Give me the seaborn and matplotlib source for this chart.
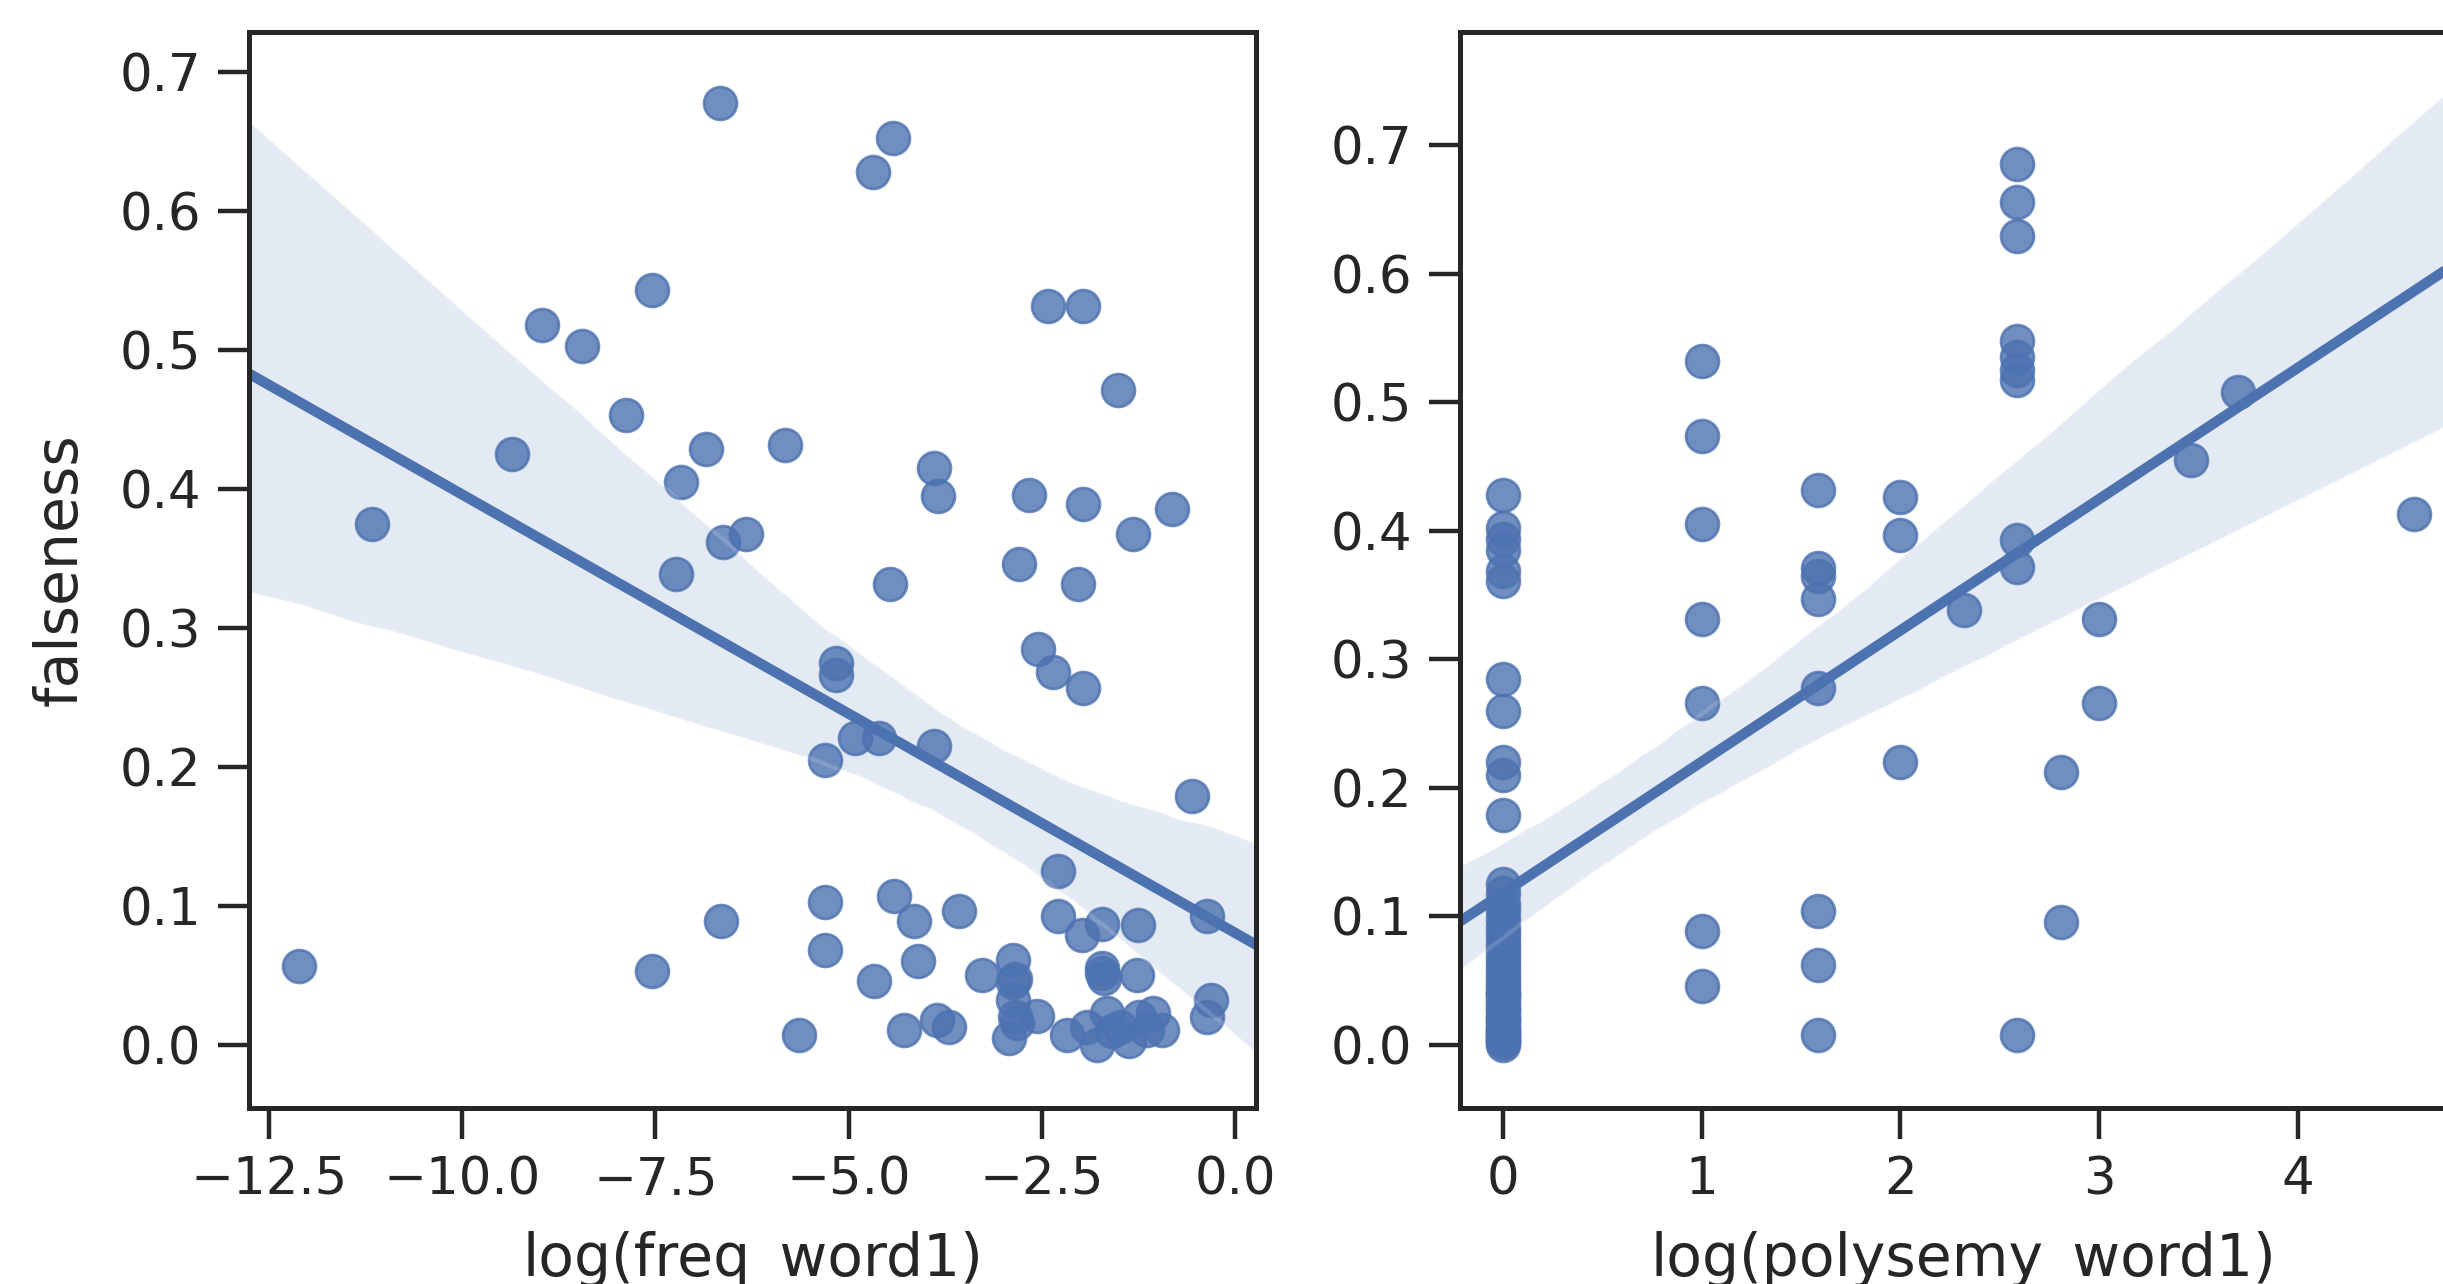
import numpy as np
import pandas as pd
import matplotlib
matplotlib.use("Agg")
import matplotlib.pyplot as plt
import seaborn as sns

# --- data ---
# left panel: log frequency of word1 vs falseness
freq_x = [-12.11, -11.16, -9.35, -8.96, -8.45, -7.88, -7.55, -7.55, -7.17, -7.24,
          -6.85, -6.66, -6.65, -6.62, -6.33, -5.82, -5.64, -5.31, -5.31, -5.31,
          -5.17, -5.17, -4.92, -4.68, -4.67, -4.61, -4.43, -4.47, -4.41, -4.28,
          -4.15, -4.10, -3.90, -3.84, -3.90, -3.86, -3.71, -3.58, -3.28, -2.87,
          -2.85, -2.87, -2.93, -2.82, -2.80, -2.67, -2.57, -2.55, -2.42, -2.36,
          -2.30, -2.30, -2.18, -2.04, -1.98, -1.97, -1.97, -1.97, -1.92, -1.79,
          -1.72, -1.72, -1.70, -1.66, -1.52, -1.49, -1.38, -1.32, -1.27, -1.26,
          -1.14, -1.06, -0.95, -0.82, -0.56, -0.37, -0.31, -0.37,
          # overlapped points inside the dense clusters
          -2.87, -2.85, -1.72, -1.60, -1.25]
freq_y = [0.057, 0.375, 0.425, 0.518, 0.503, 0.453, 0.543, 0.053, 0.405, 0.339,
          0.429, 0.678, 0.089, 0.362, 0.368, 0.432, 0.007, 0.103, 0.068, 0.205,
          0.275, 0.266, 0.221, 0.628, 0.046, 0.221, 0.653, 0.332, 0.107, 0.011,
          0.089, 0.060, 0.415, 0.395, 0.215, 0.018, 0.013, 0.096, 0.050, 0.061,
          0.047, 0.032, 0.005, 0.016, 0.346, 0.396, 0.021, 0.285, 0.532, 0.268,
          0.125, 0.093, 0.007, 0.332, 0.079, 0.389, 0.257, 0.532, 0.013, 0.000,
          0.087, 0.055, 0.048, 0.023, 0.471, 0.013, 0.003, 0.368, 0.050, 0.086,
          0.011, 0.023, 0.011, 0.386, 0.179, 0.093, 0.032, 0.020,
          0.045, 0.020, 0.052, 0.010, 0.020]

# right panel: log2 polysemy of word1 vs falseness
poly_x = ([0.0] * 48
          + [1.0] * 7
          + [1.585] * 8
          + [2.0] * 3
          + [2.322]
          + [2.585] * 10
          + [2.807] * 2
          + [3.0] * 2
          + [3.459, 3.700, 4.585])
poly_y = ([0.428, 0.402, 0.394, 0.385, 0.369, 0.361, 0.285, 0.260, 0.220, 0.210,
           0.179, 0.125, 0.118, 0.110, 0.104, 0.098, 0.092, 0.087, 0.082, 0.077,
           0.072, 0.068, 0.063, 0.058, 0.054, 0.050, 0.046, 0.042, 0.038, 0.034,
           0.030, 0.026, 0.022, 0.019, 0.016, 0.013, 0.010, 0.008, 0.006, 0.004,
           0.002, 0.000, 0.003, 0.007, 0.012, 0.020, 0.028, 0.040]
          + [0.532, 0.474, 0.405, 0.331, 0.266, 0.089, 0.046]
          + [0.432, 0.371, 0.365, 0.347, 0.278, 0.104, 0.062, 0.008]
          + [0.426, 0.397, 0.220]
          + [0.338]
          + [0.685, 0.656, 0.629, 0.548, 0.535, 0.525, 0.517, 0.393, 0.372, 0.008]
          + [0.212, 0.096]
          + [0.331, 0.266]
          + [0.455, 0.508, 0.413])

df_freq = pd.DataFrame({"log(freq_word1)": freq_x, "falseness": freq_y})
df_poly = pd.DataFrame({"log(polysemy_word1)": poly_x, "falseness": poly_y})

# --- style ---
sns.set_theme(style="ticks", context="talk")
plt.rcParams.update({
    "font.family": ["DejaVu Sans"],
    "axes.linewidth": 1.8,
    "xtick.major.size": 11, "ytick.major.size": 11,
    "xtick.major.width": 1.6, "ytick.major.width": 1.6,
    "xtick.major.pad": 6.1, "ytick.major.pad": 6.3,
    "xtick.labelsize": 18.5, "ytick.labelsize": 18.5,
    "axes.labelsize": 21,
    "lines.linewidth": 2.5,
})

W, H = 2443, 1284
fig = plt.figure(figsize=(W / 200, H / 200), dpi=200)
# axes placed in pixels; the right panel runs past the right edge like the source crop
ax1 = fig.add_axes([249 / W, (H - 1108) / H, 1007 / W, 1076 / H])
ax2 = fig.add_axes([1460 / W, (H - 1108) / H, 1007 / W, 1076 / H])

# limits first so the untruncated fit line spans the whole axis
ax1.set_xlim(-12.755, 0.266)
ax1.set_ylim(-0.0455, 0.729)
ax2.set_xlim(-0.216, 4.85)
ax2.set_ylim(-0.049, 0.788)

kw = dict(scatter_kws={"s": 140}, truncate=False, seed=0)
sns.regplot(data=df_freq, x="log(freq_word1)", y="falseness", ax=ax1, **kw)
sns.regplot(data=df_poly, x="log(polysemy_word1)", y="falseness", ax=ax2, **kw)

ax2.set_ylabel("")
ax1.yaxis.labelpad = 11
ax1.xaxis.labelpad = 9
ax2.xaxis.labelpad = 9

fig.savefig("out.png", dpi=200)
